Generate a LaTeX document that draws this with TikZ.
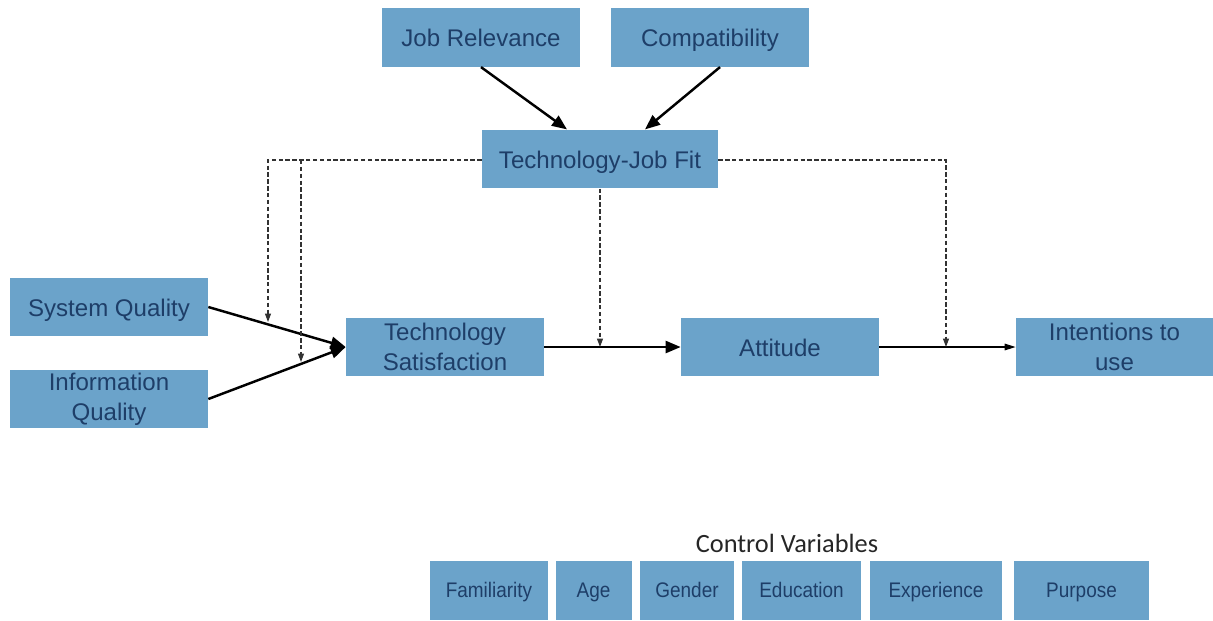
\documentclass[tikz,border=0pt]{standalone}
\usepackage{fontspec}
\setmainfont{Liberation Sans}
\newfontfamily\headfont{Carlito}
\newfontfamily\narrowfont{Liberation Sans}[FakeStretch=0.9]
\usetikzlibrary{arrows.meta}

\definecolor{boxblue}{RGB}{107,163,202}
\definecolor{boxtext}{RGB}{30,62,104}
\definecolor{dashgray}{RGB}{50,50,50}

\tikzset{
    factor/.style={fill=boxblue, text=boxtext, minimum width=3.96cm, minimum height=1.17cm,
        align=center, inner sep=1pt, font=\fontsize{13.7}{17}\selectfont},
    oneline/.style={text height=3.6mm, text depth=0mm},
    control/.style={fill=boxblue, text=boxtext, minimum height=1.18cm, inner sep=0pt,
        text height=3.2mm, text depth=0.4mm, font=\narrowfont\fontsize{12}{14}\selectfont},
    link/.style={-{Triangle[length=0.3cm,width=0.24cm]}, line width=1.4pt},
    thinlink/.style={-{Triangle[length=0.22cm,width=0.13cm]}, line width=0.75pt},
    moderator/.style={-{Triangle[length=0.17cm,width=0.12cm]}, dashgray, line width=0.65pt,
        dash pattern=on 2.5pt off 1.4pt},
}

\begin{document}
\begin{tikzpicture}[x=0.02cm, y=-0.02cm]
    \useasboundingbox (0,0) rectangle (1213,620);

    % antecedents of fit
    \node[factor, oneline] (jobrel) at (481,37.5) {Job Relevance};
    \node[factor, oneline] (compat) at (710,37.5) {Compatibility};
    \node[factor, oneline, minimum width=4.72cm] (tjf) at (600,159) {Technology-Job Fit};

    % main chain
    \node[factor, oneline] (sysq) at (109,307) {System Quality};
    \node[factor] (infoq) at (109,399) {Information\\Quality};
    \node[factor] (techsat) at (445,347) {Technology\\Satisfaction};
    \node[factor, oneline] (attitude) at (780,347) {Attitude};
    \node[factor, minimum width=3.94cm] (intent) at (1114.5,347) {Intentions to\\use};

    \draw[link] (jobrel.south) -- ([xshift=-0.66cm]tjf.north);
    \draw[link] ([xshift=0.2cm]compat.south) -- ([xshift=0.9cm]tjf.north);
    \draw[link] (sysq.east) -- (techsat.west);
    \draw[link] (infoq.east) -- (techsat.west);
    \draw[link] (techsat.east) -- (attitude.west);
    \draw[thinlink] (attitude.east) -- (intent.west);

    %%%%%%%%%%%%%%%%%%%%%%%%%%%%%%%%%%%%
    % moderating effects of fit (dashed)
    %%%%%%%%%%%%%%%%%%%%%%%%%%%%%%%%%%%%
    \coordinate (m1) at (268,322);
    \coordinate (m2) at (301,362);
    \coordinate (m3) at (600,347);
    \coordinate (m4) at (946,347);

    \draw[moderator] ([yshift=-0.02cm]tjf.west) -| (m1);
    \draw[moderator] ([yshift=-0.02cm]tjf.west -| m2) -- (m2);
    \draw[moderator] (tjf.south) -- (m3);
    \draw[moderator] ([yshift=-0.02cm]tjf.east) -| (m4);

    %%%%%%%%%%%%%%%%%%%%%%%%%%%%%%%%%%%%
    % control variables
    %%%%%%%%%%%%%%%%%%%%%%%%%%%%%%%%%%%%
    \node[text=black!85, font=\headfont\fontsize{15}{18}\selectfont] (ctrl) at (787,543) {Control Variables};

    \node[control, minimum width=2.36cm] (familiar) at (489,590.5) {Familiarity};
    \node[control, minimum width=1.52cm] (age) at (593.5,590.5) {Age};
    \node[control, minimum width=1.88cm] (gender) at (687,590.5) {Gender};
    \node[control, minimum width=2.38cm] (educ) at (801.5,590.5) {Education};
    \node[control, minimum width=2.64cm] (exper) at (936,590.5) {Experience};
    \node[control, minimum width=2.7cm] (purpose) at (1081.5,590.5) {Purpose};
\end{tikzpicture}
\end{document}
